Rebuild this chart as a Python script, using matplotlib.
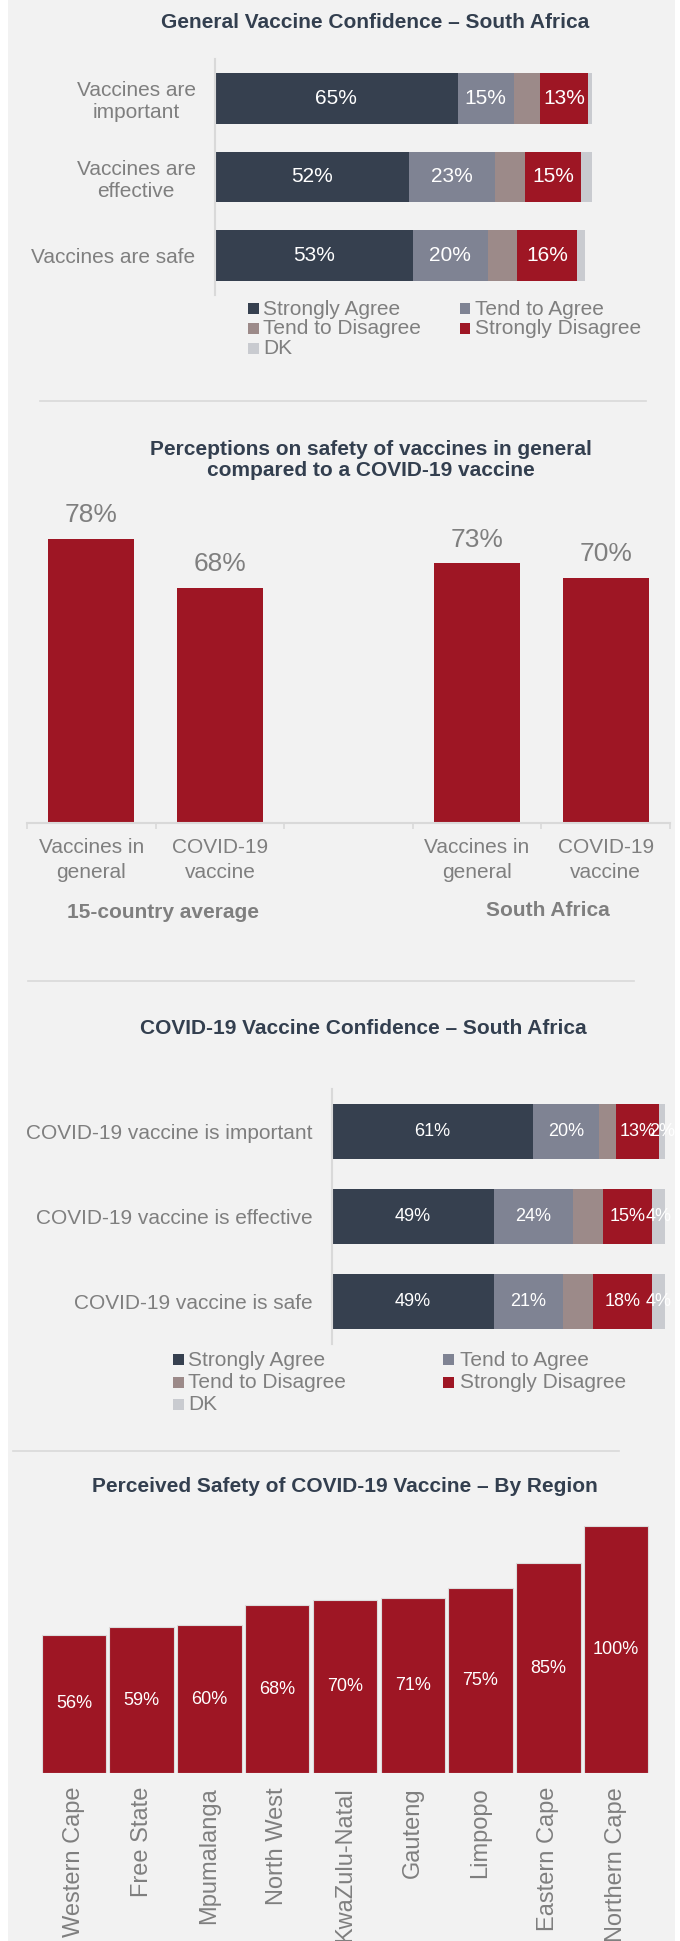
import matplotlib
matplotlib.use('Agg')
import numpy as np
import matplotlib.pyplot as plt
from matplotlib.patches import Rectangle
from matplotlib.lines import Line2D

plt.rcParams['font.family'] = ['Liberation Sans', 'DejaVu Sans']

W, H = 680, 1941          # canvas in pixels (dpi 100)

BG = '#f2f2f2'
TITLE_C = '#333f4f'
GREY = '#7f7f7f'
RULE = '#d9d9d9'
RED = '#9e1624'

# agreement scale shared by both stacked charts
LEVELS = ['Strongly Agree', 'Tend to Agree', 'Tend to Disagree',
          'Strongly Disagree', 'DK']
LEVEL_COLORS = ['#36404f', '#7f8393', '#9c8a89', '#9e1624', '#c9cbd0']

# general vaccine confidence
general_items = ['Vaccines are\nimportant', 'Vaccines are\neffective',
                 'Vaccines are safe']
general_strongly_agree = [65, 52, 53]
general_tend_agree = [15, 23, 20]
general_tend_disagree = [7, 8, 8]
general_strongly_disagree = [13, 15, 16]
general_dk = [1, 3, 2]

# safety: vaccines in general vs COVID-19 vaccine
safety_cats = ['Vaccines in\ngeneral', 'COVID-19\nvaccine']
safety_groups = ['15-country average', 'South Africa']
safety_15country = [78, 68]
safety_south_africa = [73, 70]

# COVID-19 vaccine confidence
covid_items = ['COVID-19 vaccine is important',
               'COVID-19 vaccine is effective',
               'COVID-19 vaccine is safe']
covid_strongly_agree = [61, 49, 49]
covid_tend_agree = [20, 24, 21]
covid_tend_disagree = [5, 9, 9]
covid_strongly_disagree = [13, 15, 18]
covid_dk = [2, 4, 4]

# perceived safety by province
regions = ['Western Cape', 'Free State', 'Mpumalanga', 'North West',
           'KwaZulu-Natal', 'Gauteng', 'Limpopo', 'Eastern Cape',
           'Northern Cape']
region_safe = [56, 59, 60, 68, 70, 71, 75, 85, 100]


def px_axes(fig, x0, y0, x1, y1):
    # axes from pixel box measured from the top-left corner
    ax = fig.add_axes([x0 / W, 1 - y1 / H, (x1 - x0) / W, (y1 - y0) / H])
    ax.patch.set_alpha(0)
    return ax


def ftext(fig, x, y, s, **kw):
    return fig.text(x / W, 1 - y / H, s, **kw)


def hrule(fig, y, x0, x1):
    fig.add_artist(Line2D([x0 / W, x1 / W], [1 - y / H, 1 - y / H],
                          transform=fig.transFigure, color=RULE, lw=1.2))


def stacked(ax, items, series, labelled, fontsize, height):
    ypos = np.arange(len(items))
    left = np.zeros(len(items))
    for i, (vals, color) in enumerate(zip(series, LEVEL_COLORS)):
        bars = ax.barh(ypos, vals, left=left, height=height, color=color,
                       edgecolor='none')
        if i in labelled:
            ax.bar_label(bars, labels=[f'{v}%' for v in vals],
                         label_type='center', color='white',
                         fontsize=fontsize)
        left = left + np.array(vals)
    ax.set_ylim(len(items) - 0.5, -0.5)
    ax.set_yticks(ypos, items)
    ax.set_xticks([])
    for s in ('top', 'right', 'bottom'):
        ax.spines[s].set_visible(False)
    ax.spines['left'].set_color(RULE)
    ax.spines['left'].set_linewidth(1.5)
    ax.tick_params(axis='y', length=0, pad=14, labelsize=15,
                   labelcolor=GREY)
    for lbl in ax.get_yticklabels():
        lbl.set_multialignment('center')


def legend_block(fig, marker_x, text_x, rows_y):
    for k, (name, color) in enumerate(zip(LEVELS, LEVEL_COLORS)):
        r, c = divmod(k, 2)
        y = rows_y[r]
        fig.add_artist(Rectangle((marker_x[c] / W, 1 - (y + 5.5) / H),
                                 10.5 / W, 11 / H,
                                 transform=fig.transFigure,
                                 facecolor=color, edgecolor='none'))
        ftext(fig, text_x[c], y + 1, name, ha='left', va='center',
              fontsize=15, color=GREY)


fig = plt.figure(figsize=(W / 100, H / 100), dpi=100, facecolor='white')
fig.add_artist(Rectangle((8 / W, 0), 667 / W, 1, transform=fig.transFigure,
                         facecolor=BG, edgecolor='none', zorder=0))

# --- General Vaccine Confidence -------------------------------------------
ftext(fig, 375, 22, 'General Vaccine Confidence \u2013 South Africa',
      ha='center', va='center', fontsize=15, fontweight='bold', color=TITLE_C)
ax1 = px_axes(fig, 215, 59, 215 + 3.734 * 105, 295)
ax1.set_xlim(0, 105)
stacked(ax1, general_items,
        [general_strongly_agree, general_tend_agree, general_tend_disagree,
         general_strongly_disagree, general_dk],
        labelled={0, 1, 3}, fontsize=15, height=0.645)
legend_block(fig, [248, 459.5], [263, 475], [308, 328, 348])

hrule(fig, 401, 40, 646)

# --- Safety: general vs COVID-19 ------------------------------------------
ftext(fig, 371, 460,
      'Perceptions on safety of vaccines in general\n'
      'compared to a COVID-19 vaccine',
      ha='center', va='center', fontsize=15, fontweight='bold',
      color=TITLE_C, linespacing=1.1)
ax2 = px_axes(fig, 27, 431, 670, 823)
pos_a = np.arange(len(safety_15country))
pos_b = pos_a + len(safety_15country) + 1
for pos, vals in ((pos_a, safety_15country), (pos_b, safety_south_africa)):
    ax2.bar(pos, vals, width=0.67, color=RED)
    for x, v in zip(pos, vals):
        ax2.annotate(f'{v}%', (x, v), xytext=(0, 12),
                     textcoords='offset points', ha='center', va='baseline',
                     fontsize=19, color=GREY)
ax2.set_xlim(-0.5, pos_b[-1] + 0.5)
ax2.set_ylim(20, 100)
ax2.set_yticks([])
ax2.set_xticks(np.concatenate([pos_a, pos_b]), safety_cats * 2)
ax2.set_xticks(np.arange(-0.5, pos_b[-1] + 1, 1), minor=True)
ax2.tick_params(axis='x', which='major', length=0, pad=11, labelsize=15,
                labelcolor=GREY)
ax2.tick_params(axis='x', which='minor', length=4.5, width=1.2, color=RULE)
for lbl in ax2.get_xticklabels():
    lbl.set_multialignment('center')
    lbl.set_linespacing(1.35)
for s in ('top', 'right', 'left'):
    ax2.spines[s].set_visible(False)
ax2.spines['bottom'].set_color(RULE)
ax2.spines['bottom'].set_linewidth(1.5)
ftext(fig, 163, 913, safety_groups[0], ha='center', va='center',
      fontsize=15, fontweight='bold', color=GREY)
ftext(fig, 548, 911, safety_groups[1], ha='center', va='center',
      fontsize=15, fontweight='bold', color=GREY)

hrule(fig, 981, 28, 634)

# --- COVID-19 Vaccine Confidence -------------------------------------------
ftext(fig, 363, 1028, 'COVID-19 Vaccine Confidence \u2013 South Africa',
      ha='center', va='center', fontsize=15, fontweight='bold', color=TITLE_C)
ax3 = px_axes(fig, 332, 1089, 332 + 3.30 * 105, 1344)
ax3.set_xlim(0, 105)
stacked(ax3, covid_items,
        [covid_strongly_agree, covid_tend_agree, covid_tend_disagree,
         covid_strongly_disagree, covid_dk],
        labelled={0, 1, 3, 4}, fontsize=13, height=0.643)
legend_block(fig, [173, 443], [188, 460], [1359, 1382, 1404])

hrule(fig, 1451, 13, 619)

# --- Perceived safety by region -------------------------------------------
ftext(fig, 345, 1487, 'Perceived Safety of COVID-19 Vaccine \u2013 By Region',
      ha='center', va='center', fontsize=15, fontweight='bold', color=TITLE_C)
ax4 = px_axes(fig, 40, 1514, 650, 1773)
xr = np.arange(len(regions))
bars = ax4.bar(xr, region_safe, width=0.95, color=RED, edgecolor='#dcdcdc',
               linewidth=0.8)
ax4.bar_label(bars, labels=[f'{v}%' for v in region_safe],
              label_type='center', color='white', fontsize=13)
ax4.set_xlim(-0.5, len(regions) - 0.5)
ax4.set_ylim(0, 105)
ax4.set_yticks([])
ax4.set_xticks(xr, regions, rotation=90)
ax4.tick_params(axis='x', length=0, pad=10, labelsize=17, labelcolor=GREY)
for s in ('top', 'right', 'left', 'bottom'):
    ax4.spines[s].set_visible(False)

fig.savefig('out.png', dpi=100, facecolor='white')
